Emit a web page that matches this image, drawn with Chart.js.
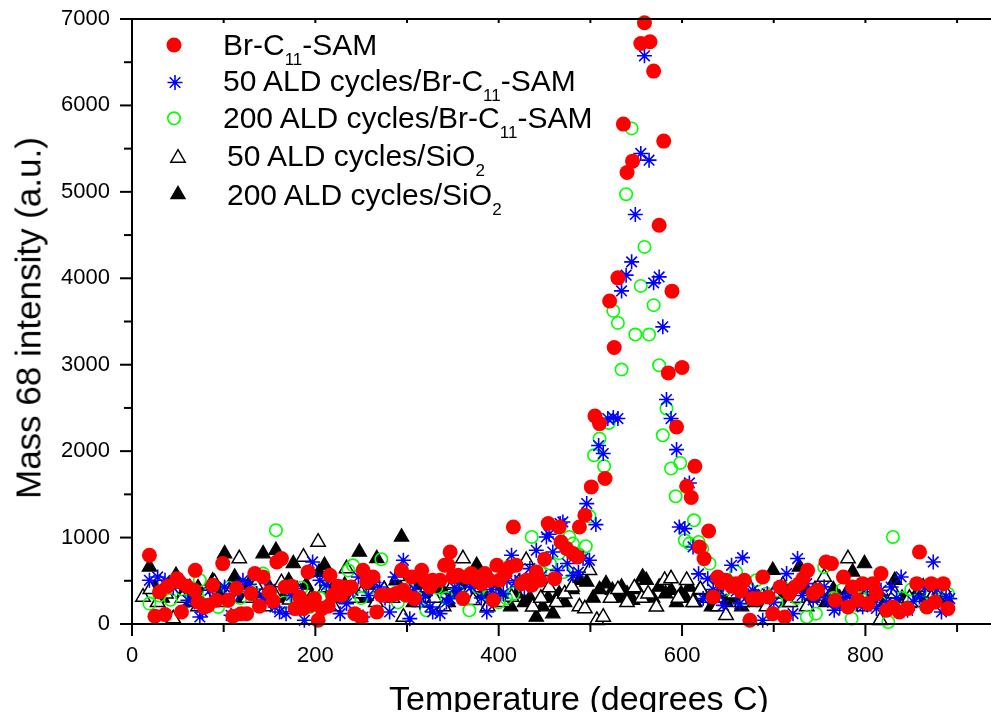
<!DOCTYPE html>
<html><head><meta charset="utf-8">
<script src="https://cdn.jsdelivr.net/npm/chart.js@4.4.1/dist/chart.umd.min.js"></script>
<style>
html,body{margin:0;padding:0;background:#fff;overflow:hidden;}
#wrap{position:relative;width:991px;height:712px;}
canvas{position:absolute;left:0;top:0;}
.t{position:absolute;font-family:"Liberation Sans",Arial,sans-serif;color:#000;white-space:nowrap;}
.lg{font-size:30px;line-height:30px;}
.sub{font-size:17px;line-height:0;position:relative;top:10px;}
</style></head><body>
<div id="wrap">
<canvas id="c" width="991" height="712"></canvas>
<div class="t lg" style="left:223px;top:29.6px">Br-C<span class="sub">11</span>-SAM</div>
<div class="t lg" style="left:223px;top:66.3px">50 ALD cycles/Br-C<span class="sub">11</span>-SAM</div>
<div class="t lg" style="left:223px;top:102.9px">200 ALD cycles/Br-C<span class="sub">11</span>-SAM</div>
<div class="t lg" style="left:227px;top:141.3px">50 ALD cycles/SiO<span class="sub">2</span></div>
<div class="t lg" style="left:227px;top:179.6px">200 ALD cycles/SiO<span class="sub">2</span></div>
<div class="t" style="font-size:34px;line-height:34px;left:579px;top:681px;transform:translateX(-50%)">Temperature (degrees C)</div>
<div class="t" style="font-size:35px;line-height:35px;left:28px;top:318px;transform:translate(-50%,-50%) rotate(-90deg)">Mass 68 intensity (a.u.)</div>
</div>
<script>
// Br-C11-SAM (red filled circles)
const brT=[19,25,30,36,39,49,52,54,60,68,69,72,79,83,88,92,99,105,110,114,119,125,130,134,139,143,150,154,158,163,167,174,178,183,187,192,194,199,203,207,214,216,219,225,228,232,236,239,243,250,252,256,263,267,272,278,283,288,294,296,299,305,308,316,319,325,328,336,341,345,347,350,356,361,365,370,376,381,385,390,394,398,401,407,412,416,419,425,430,436,441,445,450,454,461,466,468,474,481,486,488,494,501,505,510,516,521,526,530,536,540,546,555,559,565,569,575,580,585,589,594,600,605,610,614,619,624,629,634,639,643,648,654,659,664,668,674,677,683,688,694,699,707,712,717,723,728,732,737,743,748,757,763,767,776,781,786,792,797,803,808,812,817,823,830,837,846,856,859,867,872,876,885,890];
const brV=[795,89,370,109,436,525,486,139,436,390,621,255,197,216,448,274,699,274,89,410,120,120,352,583,205,544,370,266,718,757,428,436,178,312,178,602,216,294,43,178,205,564,332,436,332,428,410,428,120,74,621,486,544,139,332,332,332,352,621,390,332,544,294,621,506,428,506,506,679,679,833,544,564,294,544,583,506,467,583,506,274,679,506,583,660,1123,679,467,506,448,602,506,749,1162,525,1123,949,873,815,775,1123,1258,1586,2407,2319,1683,3738,3199,4005,5784,5224,5355,6717,6956,6736,6397,4614,5587,2905,3851,2280,2968,1594,1463,1825,891,757,1076,312,544,480,506,436,467,380,506,43,294,294,544,312,120,428,81,352,428,467,525,621,352,390,718,699,274,544,197,428,274,467,236,467,352,583,159,197,139,178,467,833,197,467,255,467,178];
// 50 ALD cycles/Br-C11-SAM (blue asterisks)
const a50T=[19,28,36,45,52,61,68,74,77,85,93,101,108,115,121,128,136,143,150,156,161,168,174,179,188,193,197,205,212,220,227,234,241,247,252,258,264,270,276,281,287,296,303,308,314,320,325,328,336,343,347,352,357,365,370,376,381,387,392,397,405,409,414,418,423,428,434,441,447,452,455,459,464,467,470,475,481,487,492,496,499,506,509,514,519,525,530,534,539,545,549,555,559,564,569,575,579,583,588,594,597,603,608,612,618,623,628,634,640,645,650,654,659,663,666,672,677,682,688,693,700,706,714,721,726,731,736,743,750,755,759,766,772,778,783,790,797,802,808,812,817,823,828,834,839,846,852,859,865,869,874,878,883,888,892];
const a50V=[506,544,506,420,470,274,255,81,139,390,300,428,101,350,506,460,352,280,400,197,139,120,330,410,43,600,718,506,448,300,120,236,390,544,81,330,480,428,300,139,544,737,62,400,255,330,197,139,120,255,294,420,370,506,430,506,300,139,400,332,352,500,795,480,506,420,641,853,560,1007,1038,833,620,1162,1181,700,560,600,760,1393,737,1150,2065,1972,2377,2390,2377,3854,4036,4190,4738,5444,6574,5367,3947,4016,3438,2597,2377,2018,1123,1104,1632,891,580,294,525,400,330,216,450,679,380,236,768,330,390,280,43,350,250,420,583,120,757,330,467,280,352,430,274,159,197,300,352,250,197,420,274,180,390,250,428,300,544,159,260,312,420,230,718,400,139,320,294];
// 200 ALD cycles/Br-C11-SAM (green open circles)
const a200T=[19,30,42,55,66,74,84,94,105,118,131,143,150,157,166,176,185,194,205,215,226,236,241,250,260,272,281,290,300,310,321,332,343,355,368,378,390,400,408,416,425,436,445,456,466,471,477,481,488,495,499,504,510,515,520,525,530,534,539,545,549,555,559,564,569,575,579,583,588,593,598,603,608,613,618,622,630,638,647,659,670,681,692,703,714,725,736,746,755,765,775,785,795,806,816,825,830,840,850,862,872,882,890];
const a200V=[236,330,280,400,300,506,350,197,420,300,380,583,300,1085,250,350,420,197,300,450,330,620,679,300,420,749,330,250,400,300,159,420,300,380,159,420,330,250,300,352,480,1007,600,700,820,600,1007,930,800,900,1246,1952,2145,1825,2326,3623,3484,2944,4973,5734,3349,3912,4363,3349,3689,2994,2184,2493,1799,1478,1864,969,930,1200,949,870,699,520,400,602,300,506,350,250,400,300,81,120,660,300,400,62,300,420,250,23,1007,300,400,250,330,280,350];
// 50 ALD cycles/SiO2 (open triangles)
const s50T=[12,20,28,37,45,55,63,72,80,90,98,108,117,126,135,145,155,163,172,180,187,195,203,211,220,228,234,242,250,258,266,275,284,290,296,305,314,322,330,340,350,361,366,372,380,388,396,405,414,422,430,437,446,455,463,472,480,488,494,499,507,514,522,530,540,548,556,563,572,581,588,596,605,612,620,630,639,648,656,665,674,683,692,700,710,718,727,736,745,755,764,772,781,790,798,806,816,824,832,840,848,856,863,872,881,888];
const s50V=[312,400,250,350,62,300,420,200,330,480,250,380,757,300,450,200,350,480,280,400,775,300,949,420,200,350,641,300,352,480,250,400,300,550,81,350,250,420,300,200,450,757,350,274,420,200,350,250,312,480,737,197,300,420,250,350,430,200,178,621,43,81,300,400,250,420,300,350,197,506,525,300,506,250,400,300,200,101,350,250,420,300,200,350,450,250,300,200,400,544,300,250,757,350,200,420,43,250,350,200,300,250,428,300,352,352];
// 200 ALD cycles/SiO2 (filled triangles)
const s200T=[19,25,33,40,48,56,64,72,80,88,95,101,108,112,120,127,135,143,150,157,165,171,176,183,190,197,204,210,218,225,232,240,248,255,261,267,275,283,288,294,300,307,314,322,330,338,345,352,360,368,376,383,390,398,405,413,420,428,434,441,448,454,459,466,472,480,488,496,503,510,517,524,530,534,540,546,551,557,561,568,575,582,588,594,599,604,608,614,619,626,632,640,648,656,665,673,681,690,699,706,714,721,728,735,742,750,757,765,772,779,786,792,799,806,814,821,832,840,848,856,864,872,881,888];
const s200V=[660,420,300,450,564,350,250,420,300,500,350,814,400,544,300,450,350,814,420,853,300,500,699,350,450,300,600,679,400,300,450,350,833,300,450,757,400,300,500,1007,350,250,450,350,300,400,250,350,450,300,679,350,250,400,300,200,350,250,300,81,200,300,120,350,250,400,506,486,300,400,467,390,300,428,350,274,400,544,506,300,428,350,390,250,352,300,428,250,390,300,200,350,250,300,200,350,250,300,621,350,250,300,660,400,300,350,250,400,300,350,602,400,699,300,350,250,506,300,236,350,250,300,274,300];

function pts(T,V){return T.map((t,i)=>({x:t,y:V[i]}));}
const FONT='"Liberation Sans", Arial, sans-serif';

function marker(ctx,style,x,y,r,fill,stroke,lw){
  ctx.save();ctx.fillStyle=fill;ctx.strokeStyle=stroke;ctx.lineWidth=lw;ctx.beginPath();
  if(style==='circle'){ctx.arc(x,y,r,0,Math.PI*2);ctx.fill();if(lw>0)ctx.stroke();}
  else if(style==='triangle'){for(let k=0;k<3;k++){const a=k*2*Math.PI/3;const px=x+Math.sin(a)*r,py=y-Math.cos(a)*r;k?ctx.lineTo(px,py):ctx.moveTo(px,py);}ctx.closePath();ctx.fill();ctx.stroke();}
  else if(style==='star'){for(let k=0;k<4;k++){const a=k*Math.PI/4;ctx.moveTo(x+Math.sin(a)*r,y-Math.cos(a)*r);ctx.lineTo(x-Math.sin(a)*r,y+Math.cos(a)*r);}ctx.stroke();}
  ctx.restore();
}

const framePlugin={id:'frame',
  afterDatasetsDraw(chart){
    const {ctx,chartArea:a,scales:{x,y}}=chart;
    ctx.save();ctx.strokeStyle='#000';ctx.lineWidth=2;
    ctx.beginPath();
    ctx.moveTo(a.left,a.top-1);ctx.lineTo(a.left,a.bottom+1);
    ctx.moveTo(a.left-1,a.bottom);ctx.lineTo(a.right,a.bottom);
    ctx.moveTo(a.left-1,a.top);ctx.lineTo(a.right,a.top);
    ctx.stroke();
    for(let v=0;v<=x.max;v+=100){const px=x.getPixelForValue(v);const L=(v%200===0)?12:8;
      ctx.beginPath();ctx.moveTo(px,a.bottom);ctx.lineTo(px,a.bottom+L);ctx.moveTo(px,a.top);ctx.lineTo(px,a.top+4);ctx.stroke();}
    for(let v=0;v<=y.max;v+=500){const py=y.getPixelForValue(v);const L=(v%1000===0)?12:8;
      ctx.beginPath();ctx.moveTo(a.left,py);ctx.lineTo(a.left-L,py);ctx.stroke();}
    ctx.restore();
    // legend symbols
    marker(ctx,'circle',174,45,7.5,'#ff0000','#ff0000',0);
    marker(ctx,'star',175,82.5,7.5,'#0000ff','#0000ff',1.6);
    marker(ctx,'circle',174,118.3,6.2,'rgba(0,0,0,0)','#00ff00',1.6);
    marker(ctx,'triangle',178,158,8.3,'#ffffff','#000000',1.5);
    marker(ctx,'triangle',178,194.5,8.3,'#000000','#000000',1.2);
  }
};

new Chart(document.getElementById('c'),{
  type:'scatter',
  data:{datasets:[
    {label:'Br-C11-SAM',data:pts(brT,brV),pointStyle:'circle',pointRadius:7.5,backgroundColor:'#ff0000',borderColor:'#ff0000',borderWidth:0,clip:false},
    {label:'50 ALD cycles/Br-C11-SAM',data:pts(a50T,a50V),pointStyle:'star',pointRadius:7.5,backgroundColor:'#0000ff',borderColor:'#0000ff',borderWidth:1.6,clip:false},
    {label:'200 ALD cycles/Br-C11-SAM',data:pts(a200T,a200V),pointStyle:'circle',pointRadius:6.2,backgroundColor:'rgba(0,0,0,0)',borderColor:'#00ff00',borderWidth:1.6,clip:false},
    {label:'50 ALD cycles/SiO2',data:pts(s50T,s50V),pointStyle:'triangle',pointRadius:8.3,backgroundColor:'#ffffff',borderColor:'#000000',borderWidth:1.5,clip:false},
    {label:'200 ALD cycles/SiO2',data:pts(s200T,s200V),pointStyle:'triangle',pointRadius:8.3,backgroundColor:'#000000',borderColor:'#000000',borderWidth:1.2,clip:false}
  ]},
  options:{
    responsive:false,devicePixelRatio:1,animation:false,
    layout:{autoPadding:false,padding:{left:0,top:19,right:0,bottom:0}},
    plugins:{legend:{display:false},tooltip:{enabled:false}},
    scales:{
      x:{type:'linear',min:0,max:937,afterFit(s){s.height=88;},
        grid:{display:false,drawTicks:true,tickLength:19},border:{display:false},
        ticks:{stepSize:200,includeBounds:false,autoSkip:false,maxRotation:0,padding:0,color:'#000',font:{family:FONT,size:22},callback:v=>String(v)}},
      y:{type:'linear',min:0,max:7000,afterFit(s){s.width=132;},
        grid:{display:false,drawTicks:true,tickLength:22},border:{display:false},
        ticks:{stepSize:1000,padding:0,color:'#000',font:{family:FONT,size:22},callback:v=>String(v)}}
    }
  },
  plugins:[framePlugin]
});
</script>
</body></html>
